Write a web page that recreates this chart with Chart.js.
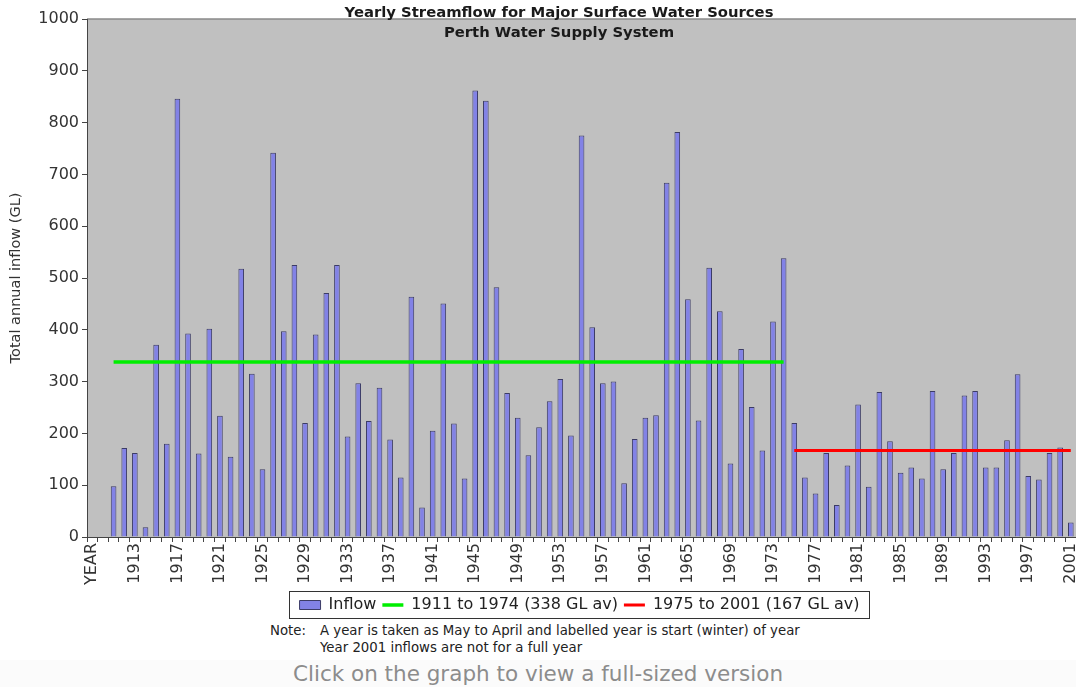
<!DOCTYPE html>
<html>
<head>
<meta charset="utf-8">
<title>Yearly Streamflow for Major Surface Water Sources</title>
<script src="https://cdn.jsdelivr.net/npm/chart.js@4.4.1/dist/chart.umd.min.js"></script>
<style>
  html, body { margin: 0; padding: 0; background: #fff; }
  #wrap { position: relative; width: 1076px; height: 687px; overflow: hidden; }
  #chart { position: absolute; left: 0; top: 0; }
  .title {
    position: absolute; left: 559px; transform: translateX(-50%);
    font: bold 14.8px "DejaVu Sans"; line-height: 17px; color: #1a1a1a; white-space: nowrap;
  }
  .note { position: absolute; font: 13.3px "DejaVu Sans"; line-height: 16px; color: #222; white-space: nowrap; }
  #band { position: absolute; left: 0; top: 660px; width: 1076px; height: 27px; background: #fbfbfb; }
  #caption {
    position: absolute; left: 538px; top: 661px; transform: translateX(-50%);
    font: 21.5px "DejaVu Sans"; line-height: 26px; color: #8c8c8c; white-space: nowrap;
  }
</style>
</head>
<body>
<div id="wrap">
  <canvas id="chart" width="1091" height="623"></canvas>
  <div class="title" style="top:3px">Yearly Streamflow for Major Surface Water Sources</div>
  <div class="title" style="top:23px">Perth Water Supply System</div>
  <div class="note" style="left:270px; top:623px">Note:</div>
  <div class="note" style="left:320px; top:623px">A year is taken as May to April and labelled year is start (winter) of year</div>
  <div class="note" style="left:320px; top:640px">Year 2001 inflows are not for a full year</div>
  <div id="band"></div>
  <div id="caption">Click on the graph to view a full-sized version</div>
</div>
<script>
// categories: header cell + one per year (1910 has no record)
const years = [
  'YEAR', '1910',
  '1911', '1912', '1913', '1914', '1915', '1916', '1917', '1918', '1919', '1920',
  '1921', '1922', '1923', '1924', '1925', '1926', '1927', '1928', '1929', '1930',
  '1931', '1932', '1933', '1934', '1935', '1936', '1937', '1938', '1939', '1940',
  '1941', '1942', '1943', '1944', '1945', '1946', '1947', '1948', '1949', '1950',
  '1951', '1952', '1953', '1954', '1955', '1956', '1957', '1958', '1959', '1960',
  '1961', '1962', '1963', '1964', '1965', '1966', '1967', '1968', '1969', '1970',
  '1971', '1972', '1973', '1974', '1975', '1976', '1977', '1978', '1979', '1980',
  '1981', '1982', '1983', '1984', '1985', '1986', '1987', '1988', '1989', '1990',
  '1991', '1992', '1993', '1994', '1995', '1996', '1997', '1998', '1999', '2000',
  '2001'
];

// total annual inflow (GL), same order as years
const inflow = [
  null, null,
  98, 172, 162, 19, 371, 180, 846, 393, 161, 402,
  234, 155, 518, 315, 131, 742, 397, 525, 220, 391,
  471, 525, 194, 297, 224, 288, 188, 115, 464, 57,
  205, 451, 219, 113, 862, 842, 482, 278, 230, 158,
  212, 262, 305, 196, 775, 405, 297, 300, 104, 189,
  230, 235, 684, 782, 459, 225, 520, 436, 142, 363,
  251, 167, 416, 538, 220, 115, 84, 162, 62, 138,
  256, 97, 280, 185, 124, 134, 113, 282, 131, 162,
  273, 282, 134, 134, 187, 314, 118, 111, 162, 173,
  28
];

// period averages
const earlyPeriod = [1911, 1974];
const earlyAvg = 338;
const latePeriod = [1975, 2001];
const lateAvg = 167;

const yTicks = [0, 100, 200, 300, 400, 500, 600, 700, 800, 900, 1000];

function periodLine(period, avg) {
    return years.map(y => (+y >= period[0] && +y <= period[1]) ? avg : null);
}

const tickFont = { family: 'DejaVu Sans', size: 16 };
const axisColor = '#444';

// grey plot area and top border
const plotBackground = {
    id: 'plotBackground',
    beforeDraw(chart) {
        const { ctx, chartArea: a } = chart;
        ctx.save();
        ctx.fillStyle = '#c0c0c0';
        ctx.fillRect(a.left, a.top, a.right - a.left, a.bottom - a.top);
        ctx.strokeStyle = '#8a8a8a';
        ctx.lineWidth = 1.5;
        ctx.beginPath();
        ctx.moveTo(a.left, a.top);
        ctx.lineTo(a.right, a.top);
        ctx.stroke();
        ctx.restore();
    }
};

// legend sits right of centre in the original, with a frame round it
const LEGEND_CENTRE = 579.5;
const legendFrame = {
    id: 'legendFrame',
    afterUpdate(chart) {
        const lg = chart.legend;
        const shift = LEGEND_CENTRE - (lg.left + lg.right) / 2;
        lg.left += shift;
        lg.right += shift;
    },
    afterDraw(chart) {
        const lg = chart.legend;
        if (!lg || !lg.lineWidths) return;
        const pad = lg.options.labels.padding;
        const lw = lg.lineWidths[0];
        const start = (lg.left + pad + lg.right - lw) / 2;
        const end = start + lw - pad;
        const top = lg.top + pad;
        const ctx = chart.ctx;
        ctx.save();
        ctx.strokeStyle = '#333';
        ctx.lineWidth = 1;
        ctx.strokeRect(Math.round(start - 11) + 0.5, Math.round(top - 6) + 0.5,
            Math.round(end - start + 20), 27);
        ctx.restore();
    }
};

new Chart(document.getElementById('chart'), {
    type: 'bar',
    data: {
        labels: years,
        datasets: [{
            type: 'bar',
            label: 'Inflow',
            data: inflow,
            backgroundColor: '#8282e6',
            borderColor: '#3c3c66',
            borderWidth: 1,
            barPercentage: 0.53,
            categoryPercentage: 1,
            pointStyle: 'rect',
            order: 2
        }, {
            type: 'line',
            label: '1911 to 1974 (338 GL av)',
            data: periodLine(earlyPeriod, earlyAvg),
            borderColor: '#00ee00',
            borderWidth: 3.5,
            pointRadius: 0,
            pointStyle: 'line',
            pointBorderColor: '#00ee00',
            pointBackgroundColor: '#00ee00',
            pointBorderWidth: 3.5,
            order: 1
        }, {
            type: 'line',
            label: '1975 to 2001 (167 GL av)',
            data: periodLine(latePeriod, lateAvg),
            borderColor: '#ff0000',
            borderWidth: 3,
            pointRadius: 0,
            pointStyle: 'line',
            pointBorderColor: '#ff0000',
            pointBackgroundColor: '#ff0000',
            pointBorderWidth: 3,
            order: 1
        }]
    },
    options: {
        responsive: false,
        animation: false,
        layout: { padding: { top: 19, right: 0, left: 0, bottom: 0 } },
        plugins: {
            title: { display: false },
            tooltip: { enabled: false },
            legend: {
                position: 'bottom',
                labels: {
                    font: tickFont,
                    color: '#222',
                    usePointStyle: true,
                    pointStyleWidth: 21,
                    boxHeight: 9,
                    padding: 6,
                    sort: (a, b) => a.datasetIndex - b.datasetIndex
                }
            }
        },
        scales: {
            x: {
                grid: { drawOnChartArea: false, drawTicks: true, tickLength: 5, color: axisColor, offset: true },
                border: { color: axisColor, width: 1 },
                ticks: {
                    autoSkip: false,
                    maxRotation: 90,
                    minRotation: 90,
                    padding: 1,
                    font: tickFont,
                    color: '#333',
                    callback: function (v, i) { return i % 4 === 0 ? this.getLabelForValue(v) : ''; }
                },
                afterFit: s => { s.height = 54; }
            },
            y: {
                min: 0,
                max: 1000,
                afterBuildTicks: s => { s.ticks = yTicks.map(v => ({ value: v })); },
                grid: { drawOnChartArea: false, tickLength: 5, color: axisColor },
                border: { color: axisColor, width: 1 },
                ticks: { font: tickFont, color: '#333', padding: 3, callback: v => String(v) },
                title: {
                    display: true,
                    text: 'Total annual inflow (GL)',
                    font: { family: 'DejaVu Sans', size: 14.5 },
                    color: '#333',
                    padding: { top: 8, bottom: 0 }
                },
                afterFit: s => { s.width = 87; }
            }
        }
    },
    plugins: [plotBackground, legendFrame]
});
</script>
</body>
</html>
